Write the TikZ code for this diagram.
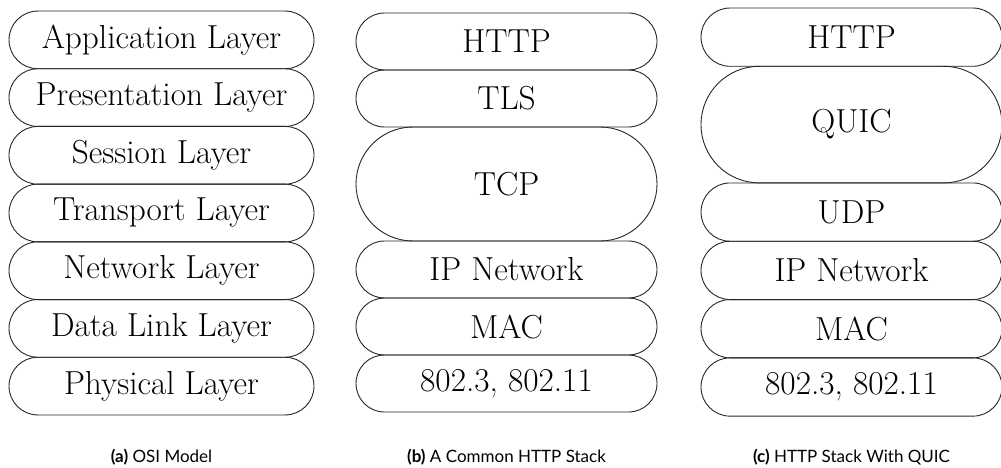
\documentclass[tikz,border=0pt]{standalone}
\usepackage{fontspec}
\usetikzlibrary{shapes.misc}
\newfontfamily\capfont{Lato}
\begin{document}
\begin{tikzpicture}[x=1pt,y=-1pt,
  layer/.style={draw=black!85, line width=0.9pt, rounded rectangle,
    inner sep=0pt, font=\fontsize{33.3}{38}\selectfont},
  colA/.style={layer, minimum width=305pt, minimum height=57.7pt},
  colB/.style={layer, minimum width=301pt, minimum height=57pt},
  colC/.style={layer, minimum width=301pt, minimum height=58.3pt},
  caption/.style={anchor=base, inner sep=0pt, font=\capfont\fontsize{17}{20}\selectfont}]
\useasboundingbox (0,0) rectangle (1001,468);

% (a) the seven OSI layers
\node[colA] (a1) at (161.5, 39.9)  {Application Layer};
\node[colA] (a2) at (161.5, 97.6)  {Presentation Layer};
\node[colA] (a3) at (161.5, 155.3) {Session Layer};
\node[colA] (a4) at (161.5, 213.0) {Transport Layer};
\node[colA] (a5) at (161.5, 270.7) {Network Layer};
\node[colA] (a6) at (161.5, 328.4) {Data Link Layer};
\node[colA] (a7) at (161.5, 386.1) {Physical Layer};

% (b) HTTP over TLS/TCP
\node[colB] (b1) at (506.5, 41.5)  {HTTP};
\node[colB] (b2) at (506.5, 98.5)  {TLS};
\node[colB, minimum height=114pt] (b3) at (506.5, 184) {TCP};
\node[colB] (b4) at (506.5, 269.5) {IP Network};
\node[colB] (b5) at (506.5, 326.5) {MAC};
\node[colB] (b6) at (506.5, 383.5) {802.3, 802.11};

% (c) HTTP over QUIC/UDP
\node[colC] (c1) at (851.5, 37.15)  {HTTP};
\node[colC, minimum height=116.6pt] (c2) at (851.5, 124.6) {QUIC};
\node[colC] (c3) at (851.5, 212.1) {UDP};
\node[colC] (c4) at (851.5, 270.4) {IP Network};
\node[colC] (c5) at (851.5, 328.7) {MAC};
\node[colC] (c6) at (851.5, 387.0) {802.3, 802.11};

% captions
\node[caption] (capA) at (161.5, 462) {\textbf{(a)} OSI Model};
\node[caption] (capB) at (506.5, 462) {\textbf{(b)} A Common HTTP Stack};
\node[caption] (capC) at (851.5, 462) {\textbf{(c)} HTTP Stack With QUIC};
\end{tikzpicture}
\end{document}
